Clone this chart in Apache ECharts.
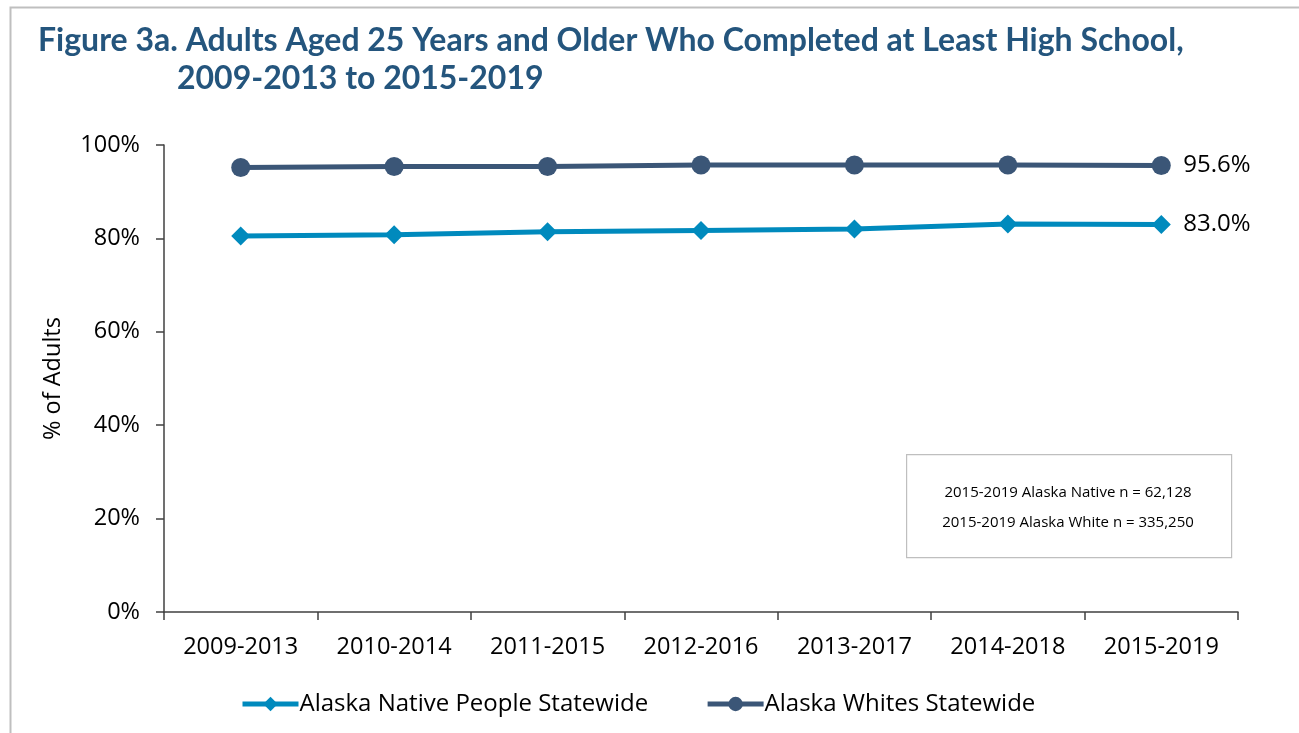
<!DOCTYPE html>
<html>
<head>
<meta charset="utf-8">
<script src="https://cdn.jsdelivr.net/npm/echarts@6/dist/echarts.min.js"></script>
<style>
html,body{margin:0;padding:0;background:#fff;}
#main{width:1299px;height:733px;}
</style>
</head>
<body>
<div id="main"></div>
<script>
const categories = ['2009-2013','2010-2014','2011-2015','2012-2016','2013-2017','2014-2018','2015-2019'];
const nativeValues = [80.5, 80.8, 81.4, 81.7, 82.0, 83.1, 83.0];
const whiteValues = [95.2, 95.4, 95.4, 95.7, 95.7, 95.7, 95.6];
const seriesNames = ['Alaska Native People Statewide', 'Alaska Whites Statewide'];
const noteLines = ['2015-2019 Alaska Native n = 62,128', '2015-2019 Alaska White n = 335,250'];
const titleLine1 = 'Figure 3a. Adults Aged 25 Years and Older Who Completed at Least High School,';
const titleLine2 = '2009-2013 to 2015-2019';

const FONT = '"Open Sans", "Noto Sans", sans-serif';
const FS = 23.5;
const chart = echarts.init(document.getElementById('main'));
const endLabel = {
  show: true,
  formatter: p => Number(p.value).toFixed(1) + '%',
  fontFamily: FONT, fontSize: 24, color: '#000', distance: 22
};
chart.setOption({
  animation: false,
  title: [
    {text: titleLine1, left: 33, top: 20, textStyle: {fontFamily: 'Lato, sans-serif', fontWeight: 'bold', fontSize: 32, color: '#24557D'}},
    {text: titleLine2, left: 172, top: 58, textStyle: {fontFamily: 'Lato, sans-serif', fontWeight: 'bold', fontSize: 32, color: '#24557D'}}
  ],
  grid: {left: 164, right: 61, top: 145, bottom: 121, containLabel: false},
  legend: {
    bottom: 12, left: 235, itemGap: 57, itemWidth: 56, itemHeight: 18,
    lineStyle: {width: 5},
    textStyle: {fontFamily: FONT, fontSize: 24, color: '#000', padding: [0,0,0,-4]},
    data: seriesNames
  },
  xAxis: {
    type: 'category', data: categories, boundaryGap: true,
    axisLine: {lineStyle: {color: '#404040', width: 1.5}},
    axisTick: {show: true, length: 8, lineStyle: {color: '#404040', width: 1.5}},
    axisLabel: {fontFamily: FONT, fontSize: FS, color: '#000', margin: 23}
  },
  yAxis: {
    type: 'value', min: 0, max: 100, interval: 20,
    name: '% of Adults', nameLocation: 'middle', nameGap: 99, nameRotate: 90,
    nameTextStyle: {fontFamily: FONT, fontSize: FS, color: '#000'},
    splitLine: {show: false},
    axisLine: {show: true, lineStyle: {color: '#404040', width: 1.5}},
    axisTick: {show: true, length: 8, lineStyle: {color: '#404040', width: 1.5}},
    axisLabel: {formatter: '{value}%', fontFamily: FONT, fontSize: FS, color: '#000', margin: 24}
  },
  series: [
    {name: seriesNames[0], type: 'line', data: nativeValues, symbol: 'diamond', symbolSize: 19,
     itemStyle: {color: '#008ABD'}, lineStyle: {color: '#008ABD', width: 5}, endLabel: endLabel},
    {name: seriesNames[1], type: 'line', data: whiteValues, symbol: 'circle', symbolSize: 19,
     itemStyle: {color: '#3B5677'}, lineStyle: {color: '#3B5677', width: 5}, endLabel: endLabel}
  ],
  graphic: [
    {type: 'rect', left: 8, top: 5, shape: {width: 1400, height: 800}, style: {fill: 'none', stroke: '#BFBFBF', lineWidth: 2}, silent: true},
    {type: 'rect', left: 906, top: 454, shape: {width: 325, height: 103}, style: {fill: '#fff', stroke: '#BFBFBF', lineWidth: 1.2}},
    {type: 'text', x: 1068, y: 493, style: {text: noteLines[0], font: '15px "Open Sans", sans-serif', fill: '#000', textAlign: 'center', textVerticalAlign: 'middle'}},
    {type: 'text', x: 1068, y: 523, style: {text: noteLines[1], font: '15px "Open Sans", sans-serif', fill: '#000', textAlign: 'center', textVerticalAlign: 'middle'}}
  ]
});
</script>
</body>
</html>
